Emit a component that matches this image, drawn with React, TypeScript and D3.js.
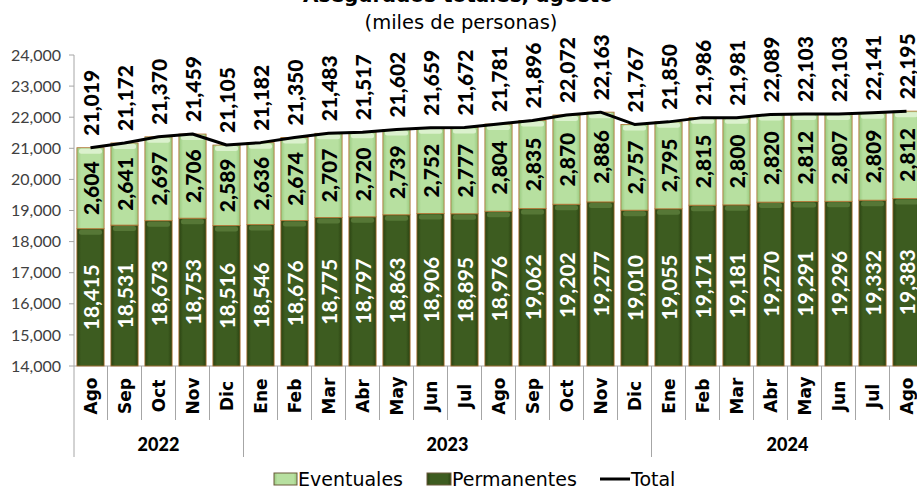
import React from "react";
import * as d3 from "d3";

const months = ["Ago","Sep","Oct","Nov","Dic","Ene","Feb","Mar","Abr","May","Jun","Jul","Ago","Sep","Oct","Nov","Dic","Ene","Feb","Mar","Abr","May","Jun","Jul","Ago"];
const years = [
  { label: "2022", start: 0, count: 5 },
  { label: "2023", start: 5, count: 12 },
  { label: "2024", start: 17, count: 8 },
];
const permanentes = [18415,18531,18673,18753,18516,18546,18676,18775,18797,18863,18906,18895,18976,19062,19202,19277,19010,19055,19171,19181,19270,19291,19296,19332,19383];
const eventuales = [2604,2641,2697,2706,2589,2636,2674,2707,2720,2739,2752,2777,2804,2835,2870,2886,2757,2795,2815,2800,2820,2812,2807,2809,2812];
const totales = [21019,21172,21370,21459,21105,21182,21350,21483,21517,21602,21659,21672,21781,21896,22072,22163,21767,21850,21986,21981,22089,22103,22103,22141,22195];
const yTicks = [14000,15000,16000,17000,18000,19000,20000,21000,22000,23000,24000];

const W = 917, H = 489;
const left = 73.5, step = 34, n = months.length;
const numFont = "Lato, 'DejaVu Sans', sans-serif";
const textFont = "'DejaVu Sans', sans-serif";

export default function App() {
  const idx = months.map((_, i) => String(i));
  const x = d3.scaleBand<string>().domain(idx).range([left, left + step * n]).paddingInner(0.2).paddingOuter(0.1);
  const y = d3.scaleLinear().domain([14000, 24000]).range([366, 55]);
  const fmt = d3.format(",");
  const bw = x.bandwidth();
  const cx = (i: number) => (x(String(i)) as number) + bw / 2;
  const line = d3.line<number>().x((_, i) => cx(i)).y((d) => y(d));
  const baseY = y(14000);
  const bandEdge = (i: number) => left + i * step;

  return (
    <svg width={W} height={H} style={{ position: "absolute", left: 0, top: 0, background: "#fff" }}>
      <defs>
        <linearGradient id="gDark" x1="0" x2="1" y1="0" y2="0">
          <stop offset="0" stopColor="#2a4211" />
          <stop offset="0.15" stopColor="#3d5c20" />
          <stop offset="0.85" stopColor="#3d5c20" />
          <stop offset="1" stopColor="#2a4211" />
        </linearGradient>
        <linearGradient id="gLight" x1="0" x2="1" y1="0" y2="0">
          <stop offset="0" stopColor="#98c97f" />
          <stop offset="0.15" stopColor="#b7e0a0" />
          <stop offset="0.85" stopColor="#b7e0a0" />
          <stop offset="1" stopColor="#98c97f" />
        </linearGradient>
      </defs>

      {/* title (top line cut off, as in the reference) */}
      <text x={458} y={2} textAnchor="middle" fontFamily={textFont} fontWeight="bold" fontSize={20} fill="#000">
        Asegurados totales, agosto
      </text>
      <text x={461} y={29} textAnchor="middle" fontFamily={textFont} fontSize={19.5} fill="#000">
        (miles de personas)
      </text>

      {/* y axis */}
      <line x1={74} x2={74} y1={y(24000)} y2={457} stroke="#a6a6a6" strokeWidth={1} />
      {yTicks.map((t) => (
        <g key={t}>
          <line x1={69} x2={74} y1={y(t)} y2={y(t)} stroke="#a6a6a6" />
          <text x={61} y={y(t)} dy="0.35em" textAnchor="end" fontFamily={numFont} fontSize={16} fill="#404040">
            {fmt(t)}
          </text>
        </g>
      ))}
      <line x1={74} x2={W} y1={baseY} y2={baseY} stroke="#a6a6a6" />

      {/* category separators */}
      {d3.range(1, n).map((i) => {
        const isYear = years.some((yr) => yr.start === i);
        return (
          <line key={i} x1={bandEdge(i)} x2={bandEdge(i)} y1={baseY} y2={isYear ? 457 : 420} stroke="#a6a6a6" />
        );
      })}

      {/* bars */}
      {months.map((_, i) => {
        const x0 = x(String(i)) as number;
        const yP = y(permanentes[i]);
        const yT = y(permanentes[i] + eventuales[i]);
        return (
          <g key={i}>
            <rect x={x0} y={yP} width={bw} height={baseY - yP} fill="url(#gDark)" stroke="#b07030" strokeWidth={0.8} />
            <rect x={x0 + 2} y={yP + 1} width={bw - 4} height={5} rx={2.5} fill="#5d7e3c" opacity={0.8} />
            <rect x={x0} y={yT} width={bw} height={yP - yT} fill="url(#gLight)" stroke="#b07030" strokeWidth={0.8} />
            <rect x={x0 + 2} y={yT + 1} width={bw - 4} height={5} rx={2.5} fill="#dff3d2" opacity={0.9} />
          </g>
        );
      })}

      {/* total line */}
      <path d={line(totales) as string} fill="none" stroke="#000" strokeWidth={3} strokeLinejoin="round" />

      {/* segment labels */}
      {months.map((_, i) => {
        const c = cx(i);
        const yP = y(permanentes[i]);
        const yT = y(totales[i]);
        const mP = (baseY + yP) / 2;
        const mE = (yP + y(permanentes[i] + eventuales[i])) / 2;
        return (
          <g key={i} fontFamily={numFont} fontSize={21}>
            <text transform={`translate(${c},${mP}) rotate(-90)`} textAnchor="middle" dominantBaseline="central" fill="#fff" fontWeight={700}>
              {fmt(permanentes[i])}
            </text>
            <text transform={`translate(${c},${mE}) rotate(-90)`} textAnchor="middle" dominantBaseline="central" fill="#000" fontWeight={900}>
              {fmt(eventuales[i])}
            </text>
            <text transform={`translate(${c},${yT - 12}) rotate(-90)`} textAnchor="start" dominantBaseline="central" fill="#000" fontWeight={900}>
              {fmt(totales[i])}
            </text>
          </g>
        );
      })}

      {/* month labels */}
      {months.map((m, i) => (
        <text key={i} transform={`translate(${cx(i)},396) rotate(-90)`} textAnchor="middle" dominantBaseline="central"
          fontFamily={textFont} fontWeight="bold" fontSize={17} fill="#000">
          {m}
        </text>
      ))}

      {/* year labels */}
      {years.map((yr) => (
        <text key={yr.label} x={(bandEdge(yr.start) + bandEdge(yr.start + yr.count)) / 2} y={445} dy="0.35em"
          textAnchor="middle" fontFamily={numFont} fontWeight={900} fontSize={18} fill="#000">
          {yr.label}
        </text>
      ))}

      {/* legend */}
      <g fontFamily={textFont} fontSize={19} fill="#000">
        <rect x={274} y={473} width={23} height={12} fill="url(#gLight)" stroke="#6b5a3a" strokeWidth={1} />
        <text x={298} y={486}>Eventuales</text>
        <rect x={427} y={473} width={24} height={12} fill="url(#gDark)" stroke="#6b5a3a" strokeWidth={1} />
        <text x={452} y={486}>Permanentes</text>
        <line x1={600} x2={630} y1={479} y2={479} stroke="#000" strokeWidth={3} />
        <text x={631} y={486}>Total</text>
      </g>
    </svg>
  );
}
